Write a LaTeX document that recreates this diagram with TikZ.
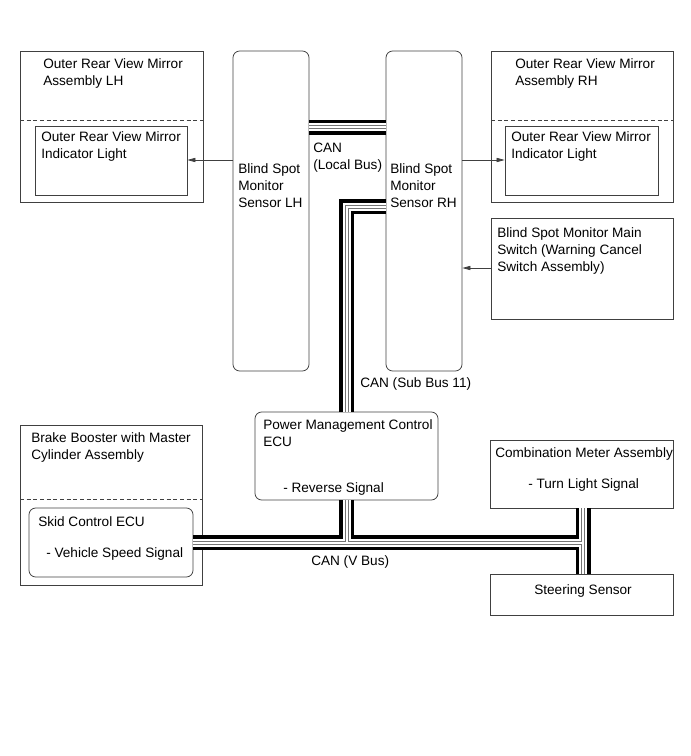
\documentclass[tikz,border=0pt]{standalone}
\usepackage{fontspec}
\setmainfont{Liberation Sans}
\usetikzlibrary{arrows.meta,fit,positioning}

\begin{document}
\begin{tikzpicture}[
	x=0.75pt, y=-0.75pt,
	font=\fontsize{10.2pt}{12.75pt}\selectfont,
	box/.style={
		draw=black!75,
		line width=0.6pt,
		inner sep=0pt,
	},
	rbox/.style={box, rounded corners=5pt},
	txt/.style={anchor=north west, align=left, inner sep=0pt},
	split/.style={draw=black!75, line width=0.5pt, dash pattern=on 3pt off 2pt},
	arr/.style={-{Triangle[length=6pt,width=3.2pt]}, draw=black!75, line width=0.5pt},
]
\useasboundingbox (0,0) rectangle (690,756);

% --- Top row: mirrors and sensors ---
\node[box, fit={(20,51) (203,202)}] (lhmirror) {};
\node[box, fit={(35,126) (187,195)}] (lhlight) {};
\node[rbox, fit={(233,51) (309,371)}] (bsmlh) {};
\node[rbox, fit={(386,51) (462,371)}] (bsmrh) {};
\node[box, fit={(491,51) (673,202)}] (rhmirror) {};
\node[box, fit={(505,126) (658,195)}] (rhlight) {};
\node[box, fit={(491,218) (673,319)}] (mainsw) {};

% --- Bottom row: ECUs ---
\node[box, fit={(20,425) (202,585)}] (booster) {};
\node[rbox, fit={(29,508) (193,577)}] (skid) {};
\node[rbox, fit={(255,412) (438,500)}] (pmc) {};
\node[box, fit={(490,440) (673,508)}] (meter) {};
\node[box, fit={(490,574) (673,615)}] (steering) {};

% --- Dashed splits of the assemblies ---
\coordinate (lhsplit) at (20,120);
\coordinate (rhsplit) at (491,120);
\coordinate (bbsplit) at (20,499);
\draw[split] (lhsplit) -- (lhsplit -| lhmirror.east);
\draw[split] (rhsplit) -- (rhsplit -| rhmirror.east);
\draw[split] (bbsplit) -- (bbsplit -| booster.east);

% --- Texts ---
\node[txt] (lhmirrortxt) at (43,58) {Outer Rear View Mirror\\Assembly LH};
\node[txt] (lhlighttxt) at (41,131) {Outer Rear View Mirror\\Indicator Light};
\node[txt] (bsmlhtxt) at (238,163) {Blind Spot\\Monitor\\Sensor LH};
\node[txt] (bsmrhtxt) at (390,163) {Blind Spot\\Monitor\\Sensor RH};
\node[txt] (rhmirrortxt) at (515,58) {Outer Rear View Mirror\\Assembly RH};
\node[txt] (rhlighttxt) at (511,131) {Outer Rear View Mirror\\Indicator Light};
\node[txt] (mainswtxt) at (497,227) {Blind Spot Monitor Main\\Switch (Warning Cancel\\Switch Assembly)};
\node[txt] (boostertxt) at (31,432) {Brake Booster with Master\\Cylinder Assembly};
\node[txt] (skidtxt) at (38,516) {Skid Control ECU};
\node[txt] (skidsig) at (46,547) {- Vehicle Speed Signal};
\node[txt] (pmctxt) at (263,419) {Power Management Control\\ECU};
\node[txt] (pmcsig) at (283,482) {- Reverse Signal};
\node[txt] (metertxt) at (495,447) {Combination Meter Assembly};
\node[txt] (metersig) at (528,478) {- Turn Light Signal};
\node[txt] (steeringtxt) at (534,584) {Steering Sensor};

% --- CAN buses ---
\coordinate (localbus) at (347,127.5);
\coordinate (subbus) at (346.5,206.5);
\coordinate (vbus) at (583,542.5);
\foreach \w/\c in {11.25pt/black, 6pt/white, 3pt/black!55, 1.5pt/white} {
	\draw[line width=\w, draw=\c]
		(bsmlh.east |- localbus) -- (bsmrh.west |- localbus)
		(bsmrh.west |- subbus) -- (subbus) -- (subbus |- pmc.north)
		(subbus |- pmc.south) -- (subbus |- vbus)
		(skid.east |- vbus) -- (vbus)
		(vbus |- meter.south) -- (vbus |- steering.north);
}
\node[txt] (localtxt) at (313,143) {CAN\\(Local Bus)};
\node[txt] (subtxt) at (360,377) {CAN (Sub Bus 11)};
\node[txt] (vtxt) at (311,555) {CAN (V Bus)};

% --- Signal arrows ---
\coordinate (lhsig) at (233,160);
\coordinate (rhsig) at (462,160);
\coordinate (swsig) at (491,268);
\draw[arr] (lhsig) -- (lhsig -| lhlight.east);
\draw[arr] (rhsig) -- (rhsig -| rhlight.west);
\draw[arr] (swsig) -- (swsig -| bsmrh.east);

\end{tikzpicture}
\end{document}
